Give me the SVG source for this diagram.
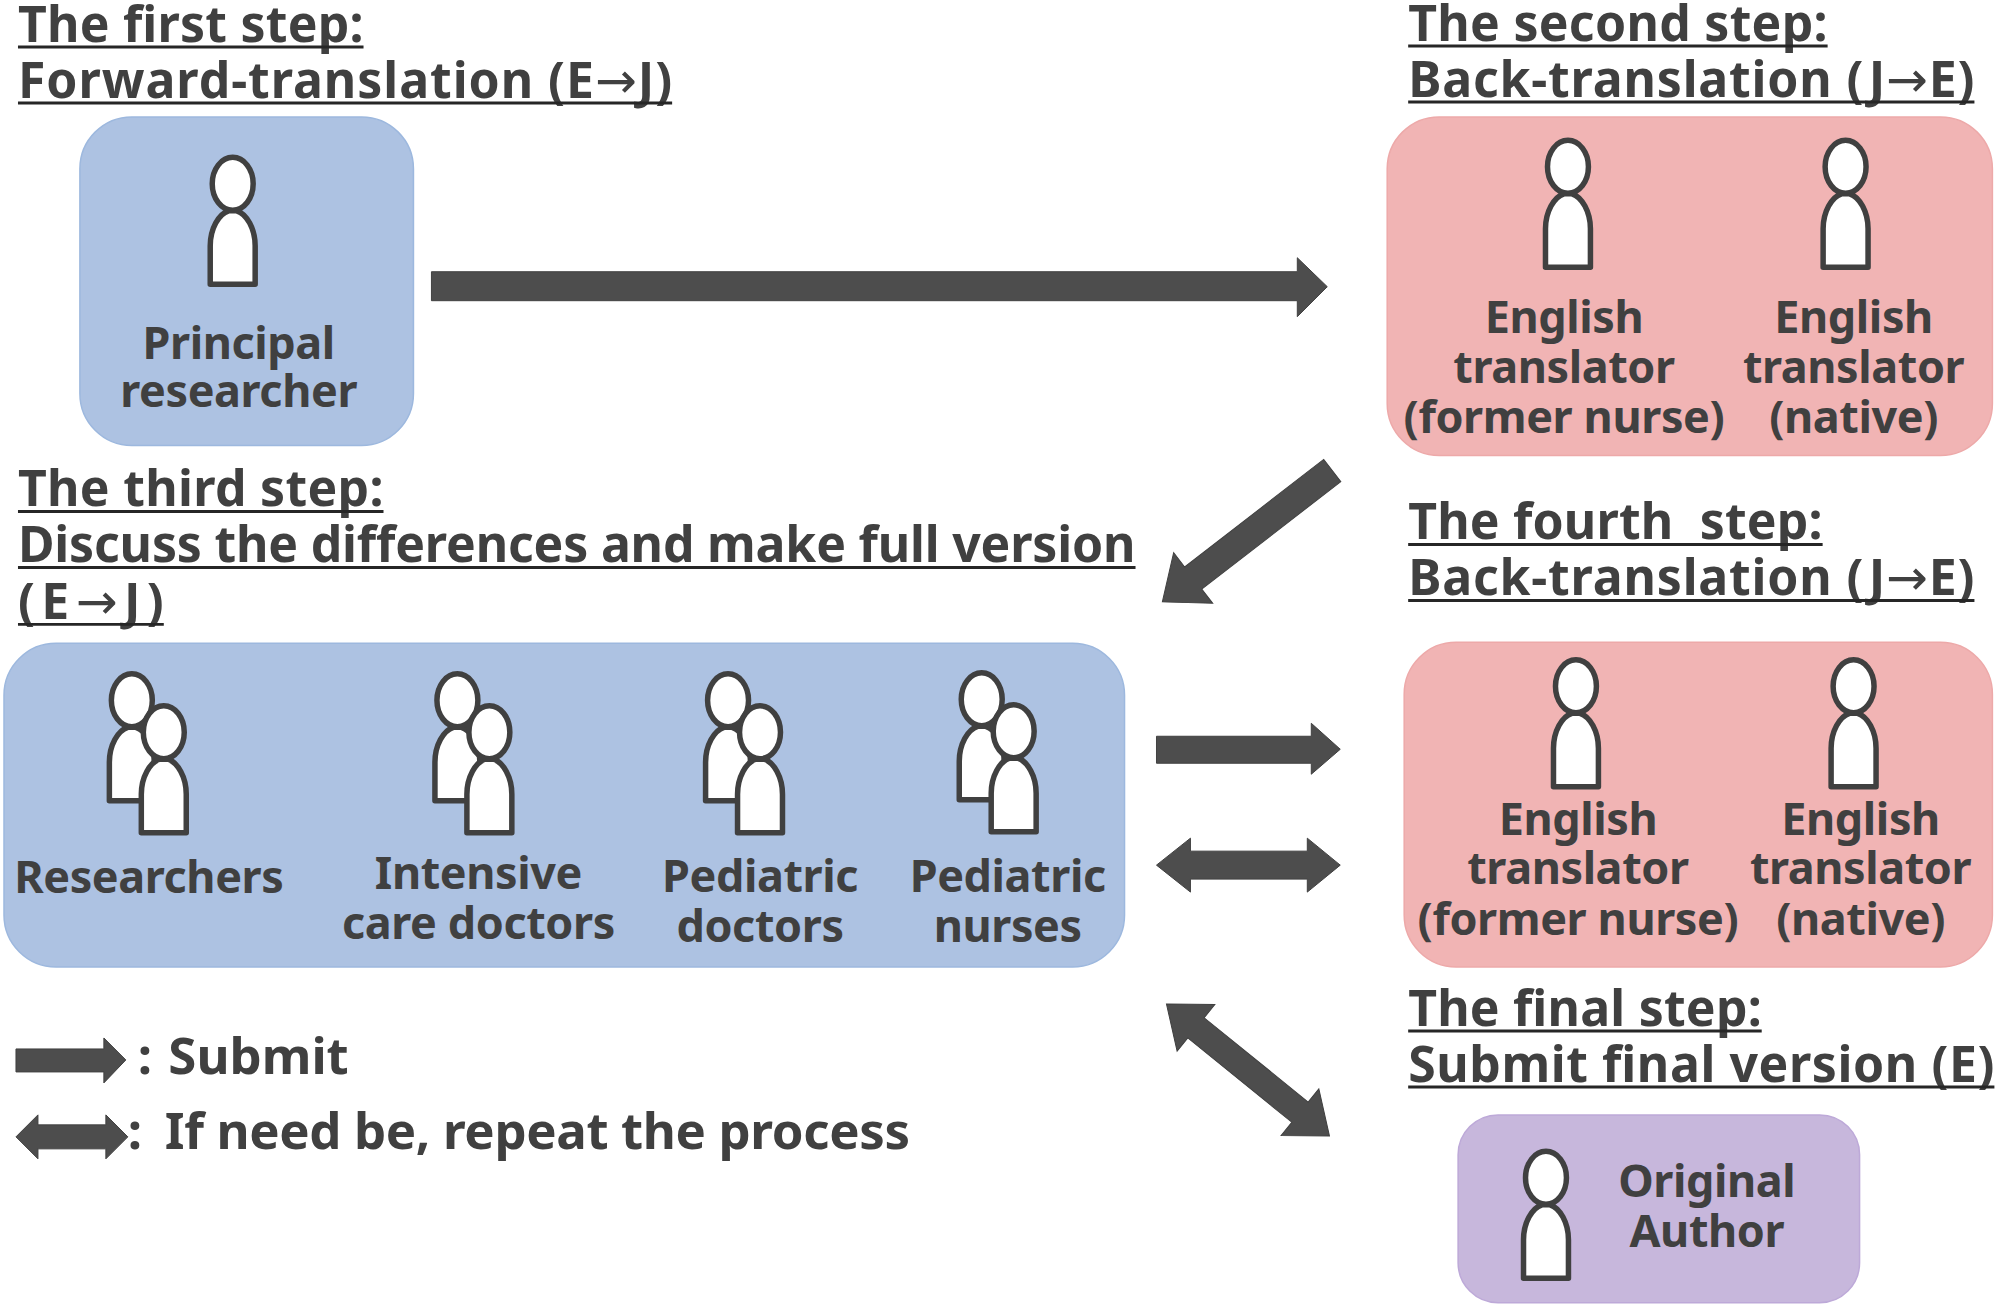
<svg xmlns="http://www.w3.org/2000/svg" width="2000" height="1306" viewBox="0 0 2000 1306">
<style>
text{font-family:"Noto Sans","DejaVu Sans",sans-serif;font-weight:700;fill:#404040;font-size:45px;letter-spacing:-.4px}
.h{font-size:50px;letter-spacing:0}
.l{font-size:51px;letter-spacing:0}
.c{text-anchor:middle}
.ar{font-family:"DejaVu Sans",sans-serif;font-weight:400}
.ul{stroke:#262626;stroke-width:3;fill:none}
.blue{fill:#adc2e2;stroke:#9db8de;stroke-width:1.5}
.pink{fill:#f1b4b4;stroke:#eda9a9;stroke-width:1.5}
.purple{fill:#c7b7dc;stroke:#bda9d8;stroke-width:1.5}
.arrow{fill:#4d4d4d;stroke:#404040;stroke-width:1}
</style>
<defs>
<g id="person">
<path d="M-22.5,100.500 L-22.500,62 C-22.500,45 -14,30 -4,27 L4,27 C14,30 22.500,45 22.500,62 L22.500,100.500 Z" fill="#fff" stroke="#404040" stroke-width="5.500" stroke-linejoin="round"/>
<ellipse cx="0" cy="0" rx="20.500" ry="26.500" fill="#fff" stroke="#404040" stroke-width="5.500"/>
</g>
<g id="pair">
<use href="#person"/>
<use href="#person" x="32" y="32"/>
</g>
</defs>
<g transform="scale(.9987 .999)">
<g id="connectors">
<polygon class="arrow" points="432,272 1299,272 1299,258 1329,287 1299,317 1299,301 432,301"/>
<polygon class="arrow" transform="translate(1334,471) rotate(142.300)" points="0,-14 176,-14 176,-32 215,0 176,32 176,14 0,14"/>
<polygon class="arrow" points="1158,737 1313,737 1313,724 1342,750 1313,775 1313,764 1158,764"/>
<polygon class="arrow" points="1158,866 1192,839 1192,852 1309,852 1309,839 1342,866 1309,893 1309,880 1192,880 1192,893"/>
<polygon class="arrow" transform="translate(1168,1005) rotate(39)" points="0,0 38,-30 38,-13 172,-13 172,-30 210,0 172,30 172,13 38,13 38,30"/>
</g>
<g id="legend">
<polygon class="arrow" points="16,1050 104,1050 104,1039 126,1061 104,1084 104,1073 16,1073"/>
<polygon class="arrow" points="16,1138 38,1116 38,1126 106,1126 106,1116 128,1138 106,1160 106,1150 38,1150 38,1160"/>
<text class="l" x="138" y="1075">:<tspan dx="3"> Submit</tspan></text>
<text class="l" x="128" y="1150" style="letter-spacing:-.35px">:<tspan dx="10"> If need be, repeat the process</tspan></text>
</g>
<g id="step1-title">
<text class="h" x="18" y="42" textLength="346">The first step:</text>
<text class="h" x="18" y="98" textLength="655">Forward-translation (E<tspan class="ar">→</tspan>J)</text>
<line class="ul" x1="18" y1="47" x2="364" y2="47"/><line class="ul" x1="18" y1="103" x2="673" y2="103"/>
</g>
<g id="step2-title">
<text class="h" x="1410" y="41" textLength="420">The second step:</text>
<text class="h" x="1410" y="97" textLength="567">Back-translation (J<tspan class="ar">→</tspan>E)</text>
<line class="ul" x1="1410" y1="46" x2="1830" y2="46"/><line class="ul" x1="1410" y1="102" x2="1977" y2="102"/>
</g>
<g id="step3-title">
<text class="h" x="18" y="507" textLength="366">The third step:</text>
<text class="h" x="18" y="563" textLength="1119">Discuss the differences and make full version</text>
<text class="h" x="18" y="620" textLength="146">(E<tspan class="ar">→</tspan>J)</text>
<line class="ul" x1="18" y1="512" x2="384" y2="512"/><line class="ul" x1="18" y1="568" x2="1137" y2="568"/><line class="ul" x1="18" y1="625" x2="164" y2="625"/>
</g>
<g id="step4-title">
<text class="h" x="1410" y="540" textLength="415" xml:space="preserve">The fourth  step:</text>
<text class="h" x="1410" y="596" textLength="567">Back-translation (J<tspan class="ar">→</tspan>E)</text>
<line class="ul" x1="1410" y1="545" x2="1825" y2="545"/><line class="ul" x1="1410" y1="601" x2="1977" y2="601"/>
</g>
<g id="final-title">
<text class="h" x="1410" y="1027" textLength="354">The final step:</text>
<text class="h" x="1410" y="1083" textLength="587">Submit final version (E)</text>
<line class="ul" x1="1410" y1="1032" x2="1764" y2="1032"/><line class="ul" x1="1410" y1="1088" x2="1997" y2="1088"/>
</g>
<g id="node-principal">
<rect class="blue" x="80" y="117" width="334" height="329" rx="52"/>
<use href="#person" x="233" y="184"/>
<text class="c" x="239" y="359">Principal</text>
<text class="c" x="239" y="407">researcher</text>
</g>
<g id="node-second">
<rect class="pink" x="1389" y="117" width="606" height="339" rx="52"/>
<use href="#person" x="1570" y="167"/>
<use href="#person" x="1848" y="167"/>
<text class="c" x="1566" y="333">English</text>
<text class="c" x="1566" y="383">translator</text>
<text class="c" x="1566" y="433">(former nurse)</text>
<text class="c" x="1856" y="333">English</text>
<text class="c" x="1856" y="383">translator</text>
<text class="c" x="1856" y="433">(native)</text>
</g>
<g id="node-third">
<rect class="blue" x="4" y="644" width="1122" height="324" rx="52"/>
<use href="#pair" x="132" y="701"/>
<use href="#pair" x="458" y="701"/>
<use href="#pair" x="729" y="701"/>
<use href="#pair" x="983" y="700"/>
<text class="c" x="149" y="894">Researchers</text>
<text class="c" x="479" y="890">Intensive</text>
<text class="c" x="479" y="940">care doctors</text>
<text class="c" x="761" y="893">Pediatric</text>
<text class="c" x="761" y="943">doctors</text>
<text class="c" x="1009" y="893">Pediatric</text>
<text class="c" x="1009" y="943">nurses</text>
</g>
<g id="node-fourth">
<rect class="pink" x="1406" y="643" width="589" height="325" rx="52"/>
<use href="#person" x="1578" y="687"/>
<use href="#person" x="1856" y="687"/>
<text class="c" x="1580" y="836">English</text>
<text class="c" x="1580" y="885">translator</text>
<text class="c" x="1580" y="936">(former nurse)</text>
<text class="c" x="1863" y="836">English</text>
<text class="c" x="1863" y="885">translator</text>
<text class="c" x="1863" y="936">(native)</text>
</g>
<g id="node-author">
<rect class="purple" x="1460" y="1116" width="402" height="188" rx="40"/>
<use href="#person" x="1548" y="1179"/>
<text class="c" x="1709" y="1198">Original</text>
<text class="c" x="1709" y="1248">Author</text>
</g>
</g>
</svg>
